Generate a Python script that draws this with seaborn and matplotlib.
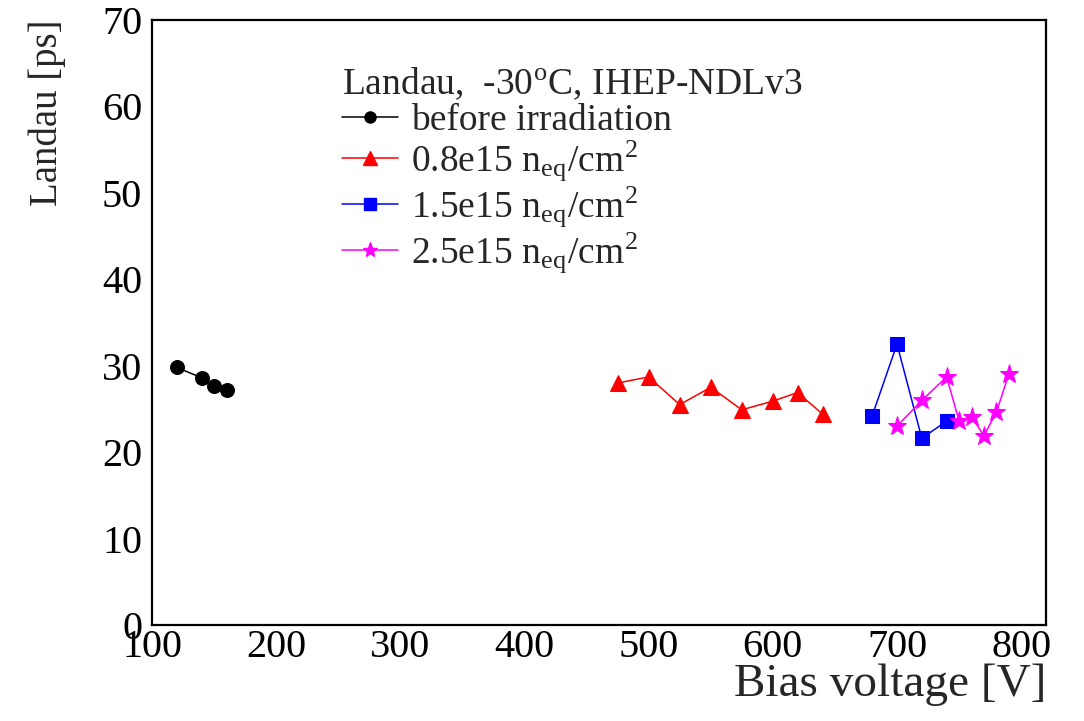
import matplotlib
matplotlib.use("Agg")
import matplotlib.pyplot as plt
import seaborn as sns
import pandas as pd
from matplotlib.lines import Line2D
from matplotlib.ticker import MultipleLocator

sns.set_theme(style="white")
plt.rcParams['font.family'] = ['Liberation Serif', 'DejaVu Serif']
plt.rcParams['mathtext.fontset'] = 'stix'

# Data
v_before = [120, 140, 150, 160]
t_before = [29.8, 28.6, 27.7, 27.2]
v_08 = [475, 500, 525, 550, 575, 600, 620, 640]
t_08 = [28.0, 28.7, 25.5, 27.5, 24.9, 25.9, 26.9, 24.4]
v_15 = [680, 700, 720, 740]
t_15 = [24.2, 32.5, 21.6, 23.6]
v_25 = [700, 720, 740, 750, 760, 770, 780, 790]
t_25 = [23.0, 26.0, 28.7, 23.6, 24.1, 21.9, 24.6, 29.0]

labels = ["before irradiation",
          "0.8e15 n$_{\\mathregular{eq}}$/cm$^{\\mathregular{2}}$",
          "1.5e15 n$_{\\mathregular{eq}}$/cm$^{\\mathregular{2}}$",
          "2.5e15 n$_{\\mathregular{eq}}$/cm$^{\\mathregular{2}}$"]
legend_title = "Landau,  -30$^{\\mathregular{o}}$C, IHEP-NDLv3"

series = [
    (v_before, t_before, "black", "o", 10, 8),
    (v_08, t_08, "#ff0000", "^", 12, 10),
    (v_15, t_15, "#0000ff", "s", 10, 9),
    (v_25, t_25, "#ff00ff", "*", 14, 11),
]

fig = plt.figure(figsize=(10.84, 7.21), dpi=100)
ax = fig.add_axes([152/1084, 1-625/721, (1046-152)/1084, (625-20)/721])

handles = []
for (x, y, c, m, ms, lms), lab in zip(series, labels):
    df = pd.DataFrame({"x": x, "y": y})
    sns.lineplot(data=df, x="x", y="y", ax=ax, color=c, marker=m, markersize=ms,
                 markeredgecolor=c, linewidth=1.1, sort=False, estimator=None)
    handles.append(Line2D([0], [0], color=c, marker=m, markersize=lms,
                          markeredgecolor=c, linewidth=1.1))

ax.set_xlim(100, 820)
ax.set_ylim(0, 70)
ax.xaxis.set_major_locator(MultipleLocator(100))
ax.xaxis.set_minor_locator(MultipleLocator(20))
ax.yaxis.set_major_locator(MultipleLocator(10))
ax.yaxis.set_minor_locator(MultipleLocator(2))
ax.tick_params(axis='both', which='both', direction='in', top=False, right=False,
               colors='black', labelsize=29, width=1.5)
ax.tick_params(axis='x', which='major', length=13, pad=3)
ax.tick_params(axis='x', which='minor', length=6)
ax.tick_params(axis='y', which='major', length=15, pad=7)
ax.tick_params(axis='y', which='minor', length=8)
for s in ax.spines.values():
    s.set_color('black')
    s.set_linewidth(1.6)

ax.set_xlabel("Bias voltage [V]", fontsize=34, loc='right', labelpad=-2)
ax.set_ylabel("Landau [ps]", fontsize=28, loc='top', labelpad=26)

leg = ax.legend(handles, labels, title=legend_title, loc='upper left',
                bbox_to_anchor=(0.212, 0.925), frameon=False, fontsize=27,
                title_fontsize=27, handlelength=1.5, handletextpad=0.35,
                labelspacing=0.03, borderaxespad=0, borderpad=0)
leg._legend_box.align = "left"

fig.savefig("out.png", dpi=100, facecolor='white')
